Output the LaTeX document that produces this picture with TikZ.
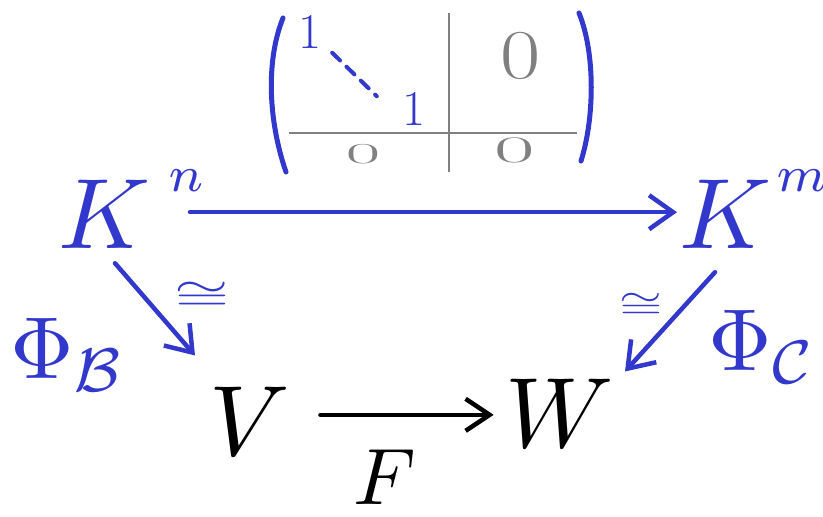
\documentclass[tikz,border=0pt]{standalone}
\usepackage{graphicx}
\usetikzlibrary{arrows.meta}
\definecolor{pen}{RGB}{51,56,204}
\definecolor{mgray}{RGB}{128,128,128}
\newcommand\mbig[2]{\scalebox{#1}{$#2$}}
\newcommand\smallsup[2]{\kern#1\raisebox{2pt}{\scalebox{0.72}{$\scriptstyle #2$}}}
\tikzset{
  bigsym/.style={inner sep=0pt},
  penarrow/.style={pen, line width=4.5pt, line cap=round, -{Straight Barb[length=24pt,width=34pt]}},
  blackarrow/.style={black, line width=4.5pt, line cap=round, -{Straight Barb[length=24pt,width=32pt]}},
  matline/.style={mgray, line width=2.5pt},
  paren/.style={pen, line width=5pt, line cap=round},
  oneentry/.style={inner sep=0pt, pen, font=\fontsize{50}{50}\selectfont},
  zeroentry/.style={inner sep=0pt, mgray},
}
\begin{document}
\begin{tikzpicture}[x=1pt,y=-1pt]
\useasboundingbox (0,0) rectangle (823,517);

% main objects
\node[bigsym, pen, anchor=base west] (Kn) at (58,248) {\mbig{10}{K^{\smallsup{1.8pt}{n}}}};
\node[bigsym, pen, anchor=base west] (Km) at (679,248) {\mbig{10}{K^{\smallsup{0.5pt}{m}}}};
\node[bigsym, anchor=base] (V) at (250,455) {\mbig{10}{V}};
\node[bigsym, anchor=base] (W) at (560,447) {\mbig{10}{W}};
\node[bigsym, anchor=base] (F) at (385,504) {\mbig{8}{F}};

\node[bigsym, pen, anchor=base west] (PhiB) at (10,378) {\mbig{8.8}{\Phi_{\mathcal{B}}}};
\node[bigsym, pen, anchor=base west] (PhiC) at (708,370) {\mbig{8.8}{\Phi_{\mathcal{C}}}};
\node[bigsym, pen] (isoL) at (202,296) {\scalebox{7}[4.2]{$\cong$}};
\node[bigsym, pen] (isoR) at (641,306) {\scalebox{5.5}[3.6]{$\cong$}};

% arrows
\draw[penarrow] ([shift={(132,-36)}]Kn.south west) -- ([shift={(-2,-36)}]Km.south west);
\draw[penarrow] ([shift={(57,15)}]Kn.south west) -- ([shift={(-55,-31)}]V.north);
\draw[penarrow] ([shift={(36,24)}]Km.south west) -- ([shift={(65,-7)}]W.north);
\draw[blackarrow] ([shift={(30,-6)}]V.east) -- ([shift={(-12,2)}]W.west);

% block matrix
\draw[paren] (283,18) .. controls (266,60) and (268,120) .. (286,172);
\draw[paren] (579,13) .. controls (596,55) and (594,120) .. (581,161);
\draw[matline] (449,13) -- (449,172);
\draw[matline] (289,133) -- (577,133);
\node[oneentry] (one1) at (310,32) {1};
\node[oneentry] (one2) at (414,109) {1};
\draw[pen, line width=4pt, line cap=round, dash pattern=on 11pt off 9pt]
  ([shift={(10.5,4)}]one1.south east) -- ([shift={(-25.5,4)}]one2.north west);
\node[zeroentry, font=\fontsize{70}{70}\selectfont] (z1) at (521,56) {\scalebox{1.25}[1]{0}};
\node[zeroentry, font=\fontsize{34}{34}\selectfont] (z2) at (363,154) {\scalebox{2.2}[0.85]{0}};
\node[zeroentry, font=\fontsize{44}{44}\selectfont] (z3) at (515,150) {\scalebox{2}[0.85]{0}};
\end{tikzpicture}
\end{document}
